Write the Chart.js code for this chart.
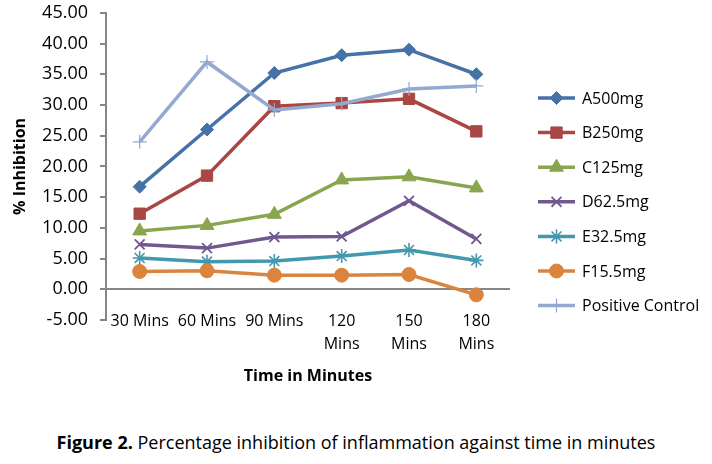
<!DOCTYPE html>
<html>
<head>
<meta charset="utf-8">
<script src="https://cdn.jsdelivr.net/npm/chart.js@4.4.1/dist/chart.umd.min.js"></script>
<style>
  html, body { margin: 0; padding: 0; background: #fff; }
  #wrap { position: relative; width: 712px; height: 464px; overflow: hidden; }
  #chart { position: absolute; left: 0; top: -10px; }
  #caption {
    position: absolute; left: 0; top: 430px; width: 712px; text-align: center;
    font-family: 'Liberation Sans Narrow', 'Open Sans', sans-serif; font-size: 18px; color: #000;
  }
</style>
</head>
<body>
<div id="wrap">
  <canvas id="chart" width="712" height="400"></canvas>
  <div id="caption"><b>Figure 2.</b> Percentage inhibition of inflammation against time in minutes</div>
</div>
<script>
const categories = ['30 Mins', '60 Mins', '90 Mins', ['120', 'Mins'], ['150', 'Mins'], ['180', 'Mins']]
const seriesNames = ['A500mg', 'B250mg', 'C125mg', 'D62.5mg', 'E32.5mg', 'F15.5mg', 'Positive Control']
const a500 = [16.7, 26.0, 35.2, 38.1, 39.0, 35.0]
const b250 = [12.3, 18.5, 29.8, 30.3, 31.0, 25.7]
const c125 = [9.5, 10.4, 12.2, 17.8, 18.3, 16.5]
const d625 = [7.3, 6.7, 8.5, 8.6, 14.4, 8.2]
const e325 = [5.1, 4.5, 4.6, 5.4, 6.4, 4.7]
const f155 = [2.9, 3.0, 2.3, 2.3, 2.4, -0.9]
const positive = [24.0, 37.0, 29.2, 30.2, 32.6, 33.1]
const yTicks = { min: -5, max: 45, step: 5 }

const seriesValues = [a500, b250, c125, d625, e325, f155, positive]
const colors = ['#4572A7', '#AA4643', '#89A54E', '#71588F', '#4198AF', '#DB843D', '#93A9CF']
const markers = [
  { pointStyle: 'rectRot', radius: 6.5, borderWidth: 1 },
  { pointStyle: 'rect', radius: 8, borderWidth: 1 },
  { pointStyle: 'triangle', radius: 8, borderWidth: 1 },
  { pointStyle: 'crossRot', radius: 7, borderWidth: 1.8 },
  { pointStyle: 'star', radius: 7, borderWidth: 1.6 },
  { pointStyle: 'circle', radius: 7, borderWidth: 1 },
  { pointStyle: 'cross', radius: 7, borderWidth: 1.2 }
]
const font = "'Open Sans', sans-serif"

const datasets = seriesValues.map((values, i) => ({
  label: seriesNames[i],
  data: values,
  borderColor: colors[i],
  backgroundColor: colors[i],
  borderWidth: 3.5,
  pointStyle: markers[i].pointStyle,
  pointRadius: markers[i].radius,
  pointHoverRadius: markers[i].radius,
  pointBorderWidth: markers[i].borderWidth,
  pointBackgroundColor: colors[i],
  pointBorderColor: colors[i],
  tension: 0,
  order: seriesValues.length - i
}))

// category labels sit a little above the bottom of the plot, like Excel does
const categoryLabels = {
  id: 'categoryLabels',
  afterDraw(chart) {
    const ctx = chart.ctx
    const x = chart.scales.x
    ctx.save()
    ctx.fillStyle = '#000'
    ctx.font = '16px ' + font
    ctx.textAlign = 'center'
    ctx.textBaseline = 'middle'
    categories.forEach((lab, i) => {
      const lines = Array.isArray(lab) ? lab : [lab]
      lines.forEach((line, j) => ctx.fillText(line, x.getPixelForTick(i), chart.chartArea.bottom + 1 + j * 23))
    })
    ctx.restore()
  }
}

// legend drawn at the right like the original figure
const sideLegend = {
  id: 'sideLegend',
  afterDraw(chart) {
    const ctx = chart.ctx
    ctx.save()
    datasets.forEach((ds, i) => {
      const y = 108 + i * 34.6
      ctx.strokeStyle = ds.borderColor
      ctx.lineWidth = 3.5
      ctx.beginPath()
      ctx.moveTo(538, y)
      ctx.lineTo(575, y)
      ctx.stroke()
      ctx.fillStyle = ds.borderColor
      ctx.lineWidth = ds.pointBorderWidth
      Chart.helpers.drawPoint(ctx, { pointStyle: ds.pointStyle, radius: ds.pointRadius, rotation: 0, borderWidth: ds.pointBorderWidth }, 556.5, y)
      ctx.fillStyle = '#000'
      ctx.font = '16px ' + font
      ctx.textBaseline = 'middle'
      ctx.textAlign = 'left'
      ctx.fillText(ds.label, 582, y + 1)
    })
    ctx.restore()
  }
}

new Chart(document.querySelector('#chart').getContext('2d'), {
  type: 'line',
  data: { labels: categories, datasets },
  options: {
    responsive: false,
    animation: false,
    layout: { padding: { top: 6, right: 202, left: 0, bottom: 0 } },
    plugins: { legend: { display: false }, tooltip: { enabled: false } },
    scales: {
      x: {
        offset: true,
        grid: { display: false },
        border: { display: false },
        ticks: { display: false },
        title: { display: true, text: 'Time in Minutes', color: '#000', font: { family: font, size: 16, weight: 'bold' }, padding: { top: 4, bottom: 4 } },
        afterFit: scale => { scale.height = 70 }
      },
      y: {
        min: yTicks.min,
        max: yTicks.max,
        border: { display: true, color: '#868686', width: 2 },
        grid: {
          drawOnChartArea: true,
          color: c => (c.tick && c.tick.value === 0 ? '#868686' : 'rgba(0,0,0,0)'),
          lineWidth: 2,
          tickColor: '#868686',
          tickLength: 6
        },
        ticks: { stepSize: yTicks.step, color: '#000', font: { family: font, size: 18 }, padding: 12, callback: v => v.toFixed(2) },
        title: { display: true, text: '% Inhibition', color: '#000', font: { family: font, size: 16, weight: 'bold' }, padding: { top: 11, bottom: 4 } },
        afterFit: scale => { scale.width = 106 }
      }
    }
  },
  plugins: [sideLegend, categoryLabels]
})
</script>
</body>
</html>
